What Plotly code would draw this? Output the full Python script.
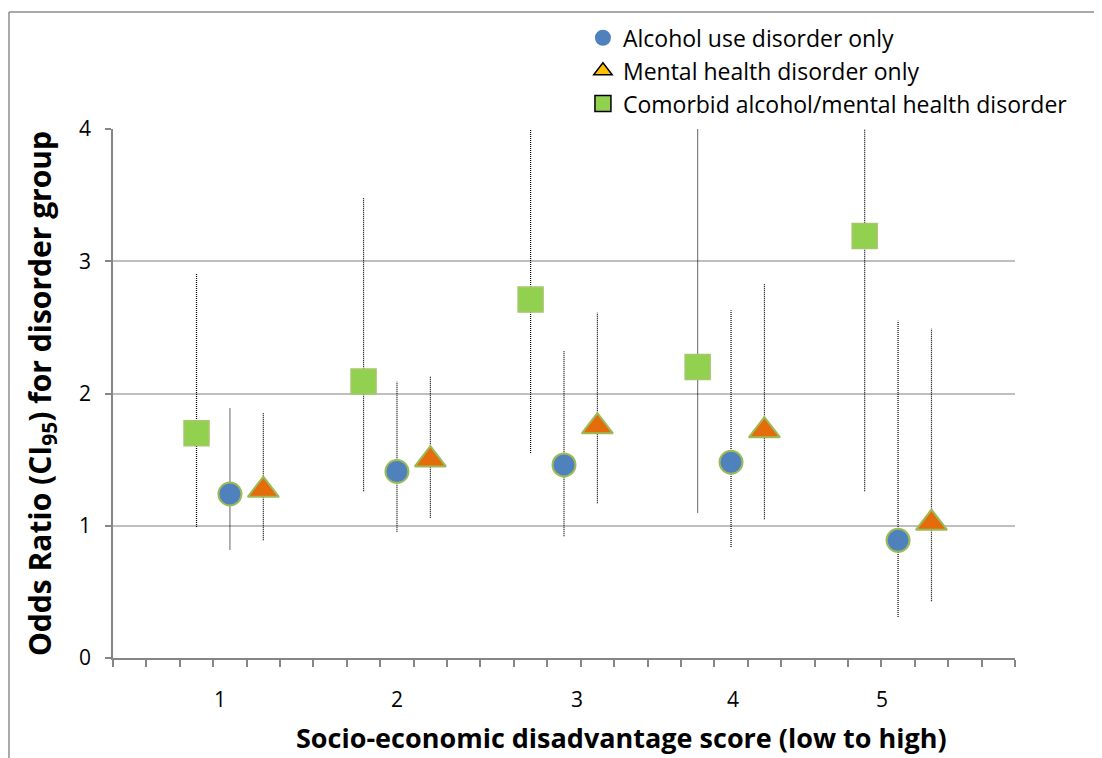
import plotly.graph_objects as go

# ---- data ----
scores = [1, 2, 3, 4, 5]
score_labels = ["1", "2", "3", "4", "5"]

alcohol_or = [1.24, 1.41, 1.46, 1.48, 0.89]
alcohol_lo = [0.82, 0.955, 0.92, 0.84, 0.31]
alcohol_hi = [1.89, 2.09, 2.32, 2.63, 2.55]

mental_or = [1.27, 1.50, 1.75, 1.72, 1.02]
mental_lo = [0.89, 1.06, 1.17, 1.05, 0.43]
mental_hi = [1.85, 2.13, 2.61, 2.83, 2.49]

comorbid_or = [1.70, 2.09, 2.71, 2.20, 3.19]
comorbid_lo = [0.99, 1.26, 1.55, 1.10, 1.26]
comorbid_hi = [2.91, 3.48, 4.60, 4.60, 4.60]

x_title = "Socio-economic disadvantage score (low to high)"
y_title = "Odds Ratio (CI<sub>95</sub>) for disorder group"

# layout helpers (category slots on a 0..27 axis, 5 slots per score)
slot = 5
offsets = {"comorbid": 2.5, "alcohol": 3.5, "mental": 4.5}
label_pos = [3.2, 8.5, 13.89, 18.56, 23.02]

def xs(series):
    return [(s - 1) * slot + offsets[series] for s in scores]

def ci_line(x, lo, hi):
    X, Y = [], []
    for a, l, h in zip(x, lo, hi):
        X += [a, a, None]
        Y += [l, h, None]
    return X, Y

FONT = "Open Sans"
fig = go.Figure()

for name, lo, hi in [("comorbid", comorbid_lo, comorbid_hi),
                     ("alcohol", alcohol_lo, alcohol_hi),
                     ("mental", mental_lo, mental_hi)]:
    X, Y = ci_line(xs(name), lo, hi)
    fig.add_trace(go.Scatter(x=X, y=Y, mode="lines", showlegend=False,
                             line=dict(color="black", width=1.2, dash="1px,1px"),
                             hoverinfo="skip"))

fig.add_trace(go.Scatter(x=xs("comorbid"), y=comorbid_or, mode="markers", showlegend=False,
                         marker=dict(symbol="square", size=25, color="#92D050",
                                     line=dict(color="#A5C76A", width=1.5))))
fig.add_trace(go.Scatter(x=xs("alcohol"), y=alcohol_or, mode="markers", showlegend=False,
                         marker=dict(symbol="circle", size=23, color="#4F81BD",
                                     line=dict(color="#9BBB59", width=2))))
fig.add_trace(go.Scatter(x=xs("mental"), y=mental_or, mode="markers", showlegend=False,
                         marker=dict(symbol="triangle-up", size=27, color="#E46C0A",
                                     line=dict(color="#9BBB59", width=2))))

# legend entries (styled as in the reference legend)
fig.add_trace(go.Scatter(x=[None], y=[None], mode="markers", name="Alcohol use disorder only",
                         marker=dict(symbol="circle", size=18, color="#4F81BD")))
fig.add_trace(go.Scatter(x=[None], y=[None], mode="markers", name="Mental health disorder only",
                         marker=dict(symbol="triangle-up", size=18, color="#FFC000",
                                     line=dict(color="black", width=1.5))))
fig.add_trace(go.Scatter(x=[None], y=[None], mode="markers", name="Comorbid alcohol/mental health disorder",
                         marker=dict(symbol="square", size=18, color="#92D050",
                                     line=dict(color="black", width=1.5))))

axis_col = "#868686"
fig.update_layout(
    width=1094, height=750,
    margin=dict(l=105, r=87, t=121, b=100, autoexpand=False),
    paper_bgcolor="white", plot_bgcolor="white",
    font=dict(family=FONT, color="black", size=21),
    showlegend=True,
    legend=dict(x=0.521, y=1.213, xanchor="left", yanchor="top",
                font=dict(family=FONT, size=23, color="black"),
                tracegroupgap=0,
                bgcolor="rgba(0,0,0,0)", itemclick=False),
    xaxis=dict(range=[0, 27], showgrid=False, zeroline=False, automargin=False,
               showline=True, linecolor=axis_col, linewidth=1.5,
               tickmode="array", tickvals=label_pos, ticktext=score_labels,
               ticks="", ticklabelstandoff=22,
               tickfont=dict(family=FONT, size=21, color="black"),
               minor=dict(ticks="outside", dtick=1, tick0=0, ticklen=7,
                          tickcolor=axis_col, tickwidth=1.5, showgrid=False)),
    yaxis=dict(range=[0, 4], dtick=1, showgrid=True, gridcolor="#BFBFBF", gridwidth=1.5,
               zeroline=False, showline=True, linecolor=axis_col, linewidth=1.5,
               automargin=False,
               ticks="outside", ticklen=6, tickcolor=axis_col, tickwidth=1.5,
               ticklabelstandoff=10,
               tickfont=dict(family=FONT, size=21, color="black"),
               title=dict(text="<b>" + y_title + "</b>",
                          font=dict(family=FONT, size=30, color="black"), standoff=19)),
    annotations=[
        dict(text="<b>" + x_title + "</b>", xref="paper", yref="paper",
             x=0.564, y=-0.151, xanchor="center", yanchor="middle", showarrow=False,
             font=dict(family=FONT, size=27, color="black")),
    ],
    shapes=[
        dict(type="line", xref="paper", yref="paper", x0=-0.1153, x1=1.1, y0=1.2212, y1=1.2212,
             line=dict(color="#8C8C8C", width=1.5)),
        dict(type="line", xref="paper", yref="paper", x0=-0.1153, x1=-0.1153, y0=1.2212, y1=-0.2,
             line=dict(color="#8C8C8C", width=1.5)),
    ],
)

fig.write_html("out.html")
